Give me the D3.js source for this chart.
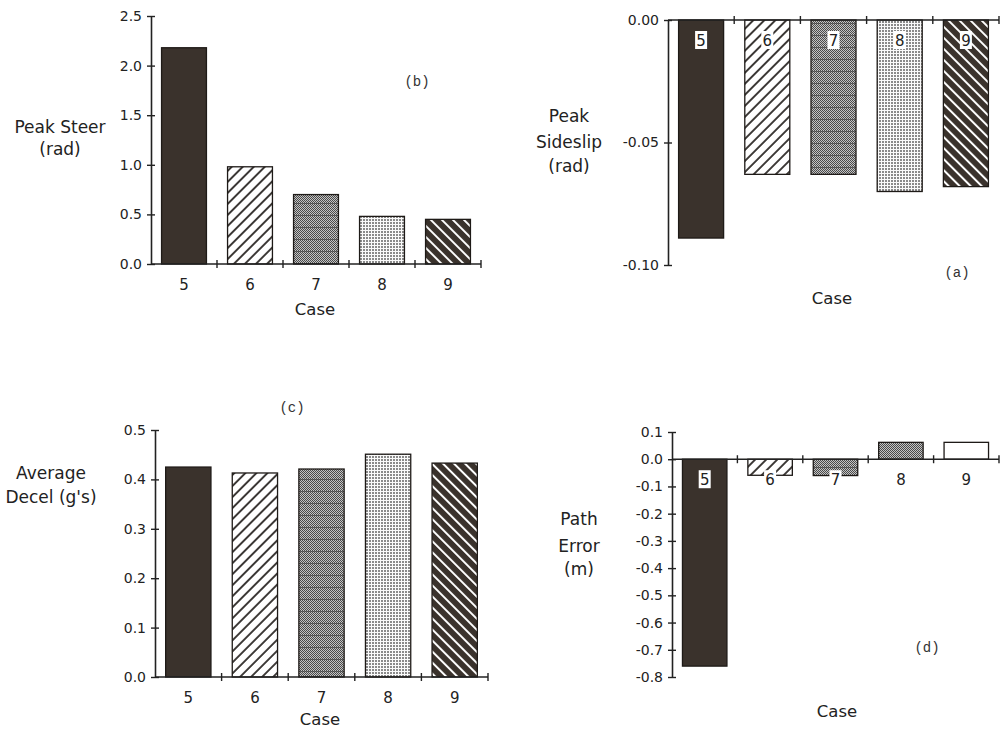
<!DOCTYPE html>
<html><head><meta charset="utf-8">
<script src="https://cdn.jsdelivr.net/npm/d3@7"></script>
<style>body{margin:0;background:#fff} svg{display:block}</style>
</head><body>
<svg id="c" width="1000" height="733"></svg>
<script>
// ---------- data ----------
const cases = ["5","6","7","8","9"];
const peakSteer = [2.18, 0.98, 0.70, 0.48, 0.45];
const steerTicks = [0, 0.5, 1.0, 1.5, 2.0, 2.5];
const peakSideslip = [-0.089, -0.063, -0.063, -0.070, -0.068];
const sideslipTicks = [0, -0.05, -0.10];
const avgDecel = [0.425, 0.413, 0.421, 0.451, 0.433];
const decelTicks = [0, 0.1, 0.2, 0.3, 0.4, 0.5];
const pathError = [-0.76, -0.059, -0.060, 0.062, 0.062];
const pathTicks = [0.1, 0, -0.1, -0.2, -0.3, -0.4, -0.5, -0.6, -0.7, -0.8];

// ---------- styles ----------
const fillsStd = ["dark","hatchF","grid","dots","hatchB"];
const fillsPath = ["dark","hatchF","grid","checker","white"];
const INK = "#222";
const DARK = "#3a322c";
const SANS = "DejaVu Sans, Verdana, sans-serif";
const MONO = "Liberation Mono, DejaVu Sans Mono, monospace";

const svg = d3.select("#c");
const defs = svg.append("defs");

// checker
const pc = defs.append("pattern").attr("id","checker").attr("patternUnits","userSpaceOnUse")
  .attr("width",2).attr("height",2);
pc.append("rect").attr("width",2).attr("height",2).attr("fill","#c4c4c4");
pc.append("rect").attr("width",1).attr("height",1).attr("fill","#4a4a4a");
pc.append("rect").attr("x",1).attr("y",1).attr("width",1).attr("height",1).attr("fill","#4a4a4a");
// grid = checker + horizontal lines
const pg = defs.append("pattern").attr("id","grid").attr("patternUnits","userSpaceOnUse")
  .attr("width",12).attr("height",12);
pg.append("rect").attr("width",12).attr("height",12).attr("fill","url(#checker)");
pg.append("rect").attr("y",11).attr("width",12).attr("height",1).attr("fill","#444").attr("opacity",0.7);
// light dots
const pd = defs.append("pattern").attr("id","dots").attr("patternUnits","userSpaceOnUse")
  .attr("width",3).attr("height",3);
pd.append("rect").attr("width",3).attr("height",3).attr("fill","#fafafa");
pd.append("rect").attr("width",2).attr("height",2).attr("fill","#8a8a8a");
// forward hatch "/"
const ph = defs.append("pattern").attr("id","hatchF").attr("patternUnits","userSpaceOnUse")
  .attr("width",7.8).attr("height",7.8).attr("patternTransform","rotate(45)");
ph.append("rect").attr("width",7.8).attr("height",7.8).attr("fill","#fff");
ph.append("line").attr("x1",1).attr("x2",1).attr("y1",0).attr("y2",7.8).attr("stroke","#1e1a17").attr("stroke-width",1.7);
// back hatch "\" white on dark
const pb = defs.append("pattern").attr("id","hatchB").attr("patternUnits","userSpaceOnUse")
  .attr("width",7.8).attr("height",7.8).attr("patternTransform","rotate(-45)");
pb.append("rect").attr("width",7.8).attr("height",7.8).attr("fill",DARK);
pb.append("line").attr("x1",1).attr("x2",1).attr("y1",0).attr("y2",7.8).attr("stroke","#fff").attr("stroke-width",2);

const fillMap = {dark: DARK, hatchF:"url(#hatchF)", grid:"url(#grid)", dots:"url(#dots)",
  hatchB:"url(#hatchB)", checker:"url(#checker)", white:"#fff"};

function panel(o){
  const g = svg.append("g");
  const x = d3.scaleBand().domain(cases).range(o.xr).paddingInner(0.32).paddingOuter(0.16);
  const y = d3.scaleLinear().domain(o.yd).range(o.yr);
  const y0 = y(0);
  const rows = o.values.map((v,i)=>({c:cases[i], v, f:o.fills[i]}));

  g.selectAll("rect.bar").data(rows).join("rect").attr("class","bar")
    .attr("x",d=>x(d.c)).attr("width",x.bandwidth())
    .attr("y",d=>Math.min(y(d.v),y0)).attr("height",d=>Math.abs(y(d.v)-y0))
    .attr("fill",d=>fillMap[d.f]).attr("stroke","#1e1a17").attr("stroke-width",1.3);

  // y axis
  const fmt = d3.format(o.fmt);
  const ax = d3.axisLeft(y).tickValues(o.ticks).tickFormat(v=>fmt(v).replace("\u2212","-"))
    .tickSizeInner(4).tickSizeOuter(0).tickPadding(5);
  const ga = g.append("g").attr("transform",`translate(${o.xr[0]},0)`).call(ax);
  ga.select(".domain").attr("stroke",INK).attr("stroke-width",1.6);
  ga.selectAll(".tick line").attr("x1",4).attr("stroke",INK).attr("stroke-width",1.4);
  ga.selectAll(".tick text").attr("font-family",SANS).attr("font-size",14).attr("fill",INK);

  // x axis at zero
  g.append("line").attr("x1",o.xr[0]).attr("x2",o.xr[1]).attr("y1",y0).attr("y2",y0)
    .attr("stroke",INK).attr("stroke-width",1.6);
  g.selectAll("line.xt").data(cases).join("line").attr("class","xt")
    .attr("x1",d=>x(d)+x.bandwidth()+x.step()*0.16).attr("x2",d=>x(d)+x.bandwidth()+x.step()*0.16)
    .attr("y1",y0-4).attr("y2",y0+4).attr("stroke",INK).attr("stroke-width",1.4);

  // category labels
  const lab = g.selectAll("g.cl").data(cases).join("g").attr("class","cl")
    .attr("transform",d=>`translate(${x(d)+x.bandwidth()/2},${y0+26})`);
  if(o.boxed){
    lab.append("rect").attr("x",-6).attr("y",-15).attr("width",12).attr("height",18).attr("fill","#fff");
  }
  lab.append("text").attr("text-anchor","middle").attr("font-family",SANS).attr("font-size",15)
    .attr("fill",INK).text(d=>d);

  // titles
  const t = g.append("text").attr("font-family",SANS).attr("font-size",17).attr("fill",INK)
    .attr("text-anchor","middle");
  o.title.forEach((s,i)=>t.append("tspan").attr("x",o.tx).attr("y",o.ty[i]).text(s));
  g.append("text").attr("x",o.cx).attr("y",o.cy).attr("text-anchor","middle")
    .attr("font-family",SANS).attr("font-size",16.5).attr("fill",INK).text("Case");
  g.append("text").attr("x",o.lx).attr("y",o.ly).attr("text-anchor","middle")
    .attr("font-family",MONO).attr("font-size",14).attr("fill","#333").text(o.tag);
}

panel({values:peakSteer, ticks:steerTicks, fmt:".1f", fills:fillsStd,
  xr:[151,481], yd:[0,2.5], yr:[264,16], boxed:false,
  title:["Peak Steer","(rad)"], tx:60, ty:[133,155], cx:315, cy:315, lx:417, ly:86, tag:"(b)"});
panel({values:peakSideslip, ticks:sideslipTicks, fmt:".2f", fills:fillsStd,
  xr:[668,999], yd:[-0.1,0], yr:[265,20], boxed:true,
  title:["Peak","Sideslip","(rad)"], tx:569, ty:[122,148,172], cx:832, cy:304, lx:957, ly:277, tag:"(a)"});
panel({values:avgDecel, ticks:decelTicks, fmt:".1f", fills:fillsStd,
  xr:[155,488], yd:[0,0.5], yr:[677,430], boxed:false,
  title:["Average","Decel (g's)"], tx:51, ty:[479,503], cx:320, cy:725, lx:292, ly:412, tag:"(c)"});
panel({values:pathError, ticks:pathTicks, fmt:".1f", fills:fillsPath,
  xr:[672,999], yd:[-0.8,0.1], yr:[677,432], boxed:true,
  title:["Path","Error","(m)"], tx:579, ty:[525,552,575], cx:837, cy:717, lx:927, ly:652, tag:"(d)"});
</script>
</body></html>
